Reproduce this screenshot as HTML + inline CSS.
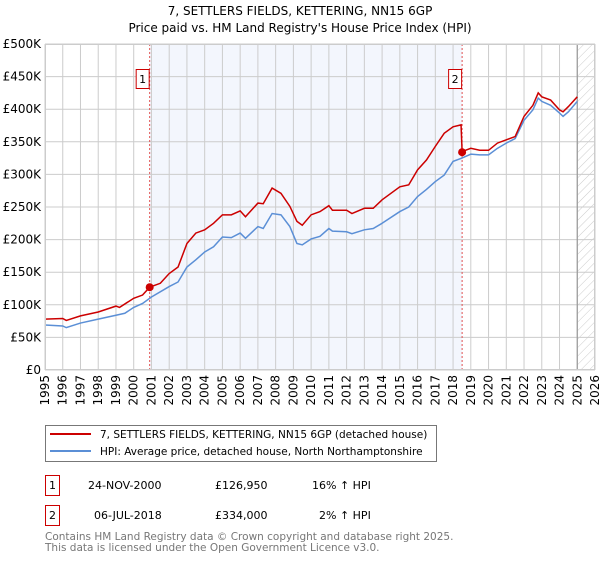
<!DOCTYPE html>
<html><head><meta charset="utf-8"><style>
body{margin:0;background:#fff;font-family:"DejaVu Sans","Liberation Sans",sans-serif;}
svg text{font-family:"DejaVu Sans","Liberation Sans",sans-serif;}
</style></head><body>
<svg width="600" height="560" viewBox="0 0 600 560">
<defs><pattern id="hatch" width="6" height="6" patternUnits="userSpaceOnUse" patternTransform="rotate(45)"><line x1="0" y1="0" x2="0" y2="6" stroke="#ccc" stroke-width="1"/></pattern></defs>
<text x="300" y="15" text-anchor="middle" font-size="12">7, SETTLERS FIELDS, KETTERING, NN15 6GP</text>
<text x="300" y="32" text-anchor="middle" font-size="12">Price paid vs. HM Land Registry's House Price Index (HPI)</text>
<g id="plot"></g>
<g>
<rect x="45.5" y="425.5" width="391" height="36" fill="#fff" stroke="#777"/>
<line x1="50" y1="434" x2="91" y2="434" stroke="#cc0000" stroke-width="2"/>
<text x="100" y="438" font-size="10.5">7, SETTLERS FIELDS, KETTERING, NN15 6GP (detached house)</text>
<line x1="50" y1="451" x2="91" y2="451" stroke="#5b8fd6" stroke-width="2"/>
<text x="100" y="455" font-size="10.5">HPI: Average price, detached house, North Northamptonshire</text>
</g>
<g>
<rect x="45.5" y="475.5" width="14" height="20" fill="none" stroke="#cc0000"/>
<text x="52.5" y="489" text-anchor="middle" font-size="11">1</text>
<text x="88" y="489" font-size="11">24-NOV-2000</text>
<text x="215" y="489" font-size="11">£126,950</text>
<text x="312" y="489" font-size="11">16% ↑ HPI</text>
</g>
<g>
<rect x="45.5" y="505.5" width="14" height="20" fill="none" stroke="#cc0000"/>
<text x="52.5" y="519" text-anchor="middle" font-size="11">2</text>
<text x="94" y="519" font-size="11">06-JUL-2018</text>
<text x="215" y="519" font-size="11">£334,000</text>
<text x="319" y="519" font-size="11">2% ↑ HPI</text>
</g>
<text x="45" y="540" font-size="10.5" fill="#777">Contains HM Land Registry data © Crown copyright and database right 2025.</text>
<text x="45" y="551" font-size="10.5" fill="#777">This data is licensed under the Open Government Licence v3.0.</text>
</svg>
<script>
const hpiYears=[1995,1996,1996.2,1997,1998,1999,1999.5,2000,2000.5,2001,2002,2002.5,2003,2003.5,2004,2004.5,2005,2005.5,2006,2006.3,2007,2007.3,2007.8,2008.3,2008.8,2009.2,2009.5,2010,2010.5,2011,2011.2,2012,2012.3,2013,2013.5,2014,2015,2015.5,2016,2016.5,2017,2017.5,2018,2018.5,2019,2019.5,2020,2020.5,2021,2021.5,2022,2022.5,2022.8,2023,2023.5,2024,2024.2,2024.5,2025];
const hpiValues=[69,67.5,65,72,78,84,87,96,102,112,128,135,158,169,181,189,204,203,210,202,220,217,240,238,220,194,192,201,205,217,213,212,209,215,217,225,243,250,266,277,289,299,320,325,331,330,330,340,348,355,383,399,417,412,406,394,389,396,412];
const priceYears=[1995,1996,1996.2,1997,1998,1999,1999.2,2000,2000.5,2000.9,2001.5,2002,2002.5,2003,2003.5,2004,2004.5,2005,2005.5,2006,2006.3,2007,2007.3,2007.8,2008.3,2008.8,2009.2,2009.5,2010,2010.5,2011,2011.2,2012,2012.3,2013,2013.5,2014,2015,2015.5,2016,2016.5,2017,2017.5,2018,2018.45,2018.51,2019,2019.5,2020,2020.5,2021,2021.5,2022,2022.5,2022.8,2023,2023.5,2024,2024.2,2024.5,2025];
const priceValues=[78,79,76,83,89,98,96,110,115,127,133,148,158,194,210,215,225,238,238,244,235,256,255,279,271,251,228,222,238,243,252,245,245,240,248,248,261,281,284,307,322,343,363,373,376,335,340,337,337,348,353,358,389,406,425,419,414,399,396,404,419];
const yTicks=[0,50,100,150,200,250,300,350,400,450,500];
const yTickLabels=["£0","£50K","£100K","£150K","£200K","£250K","£300K","£350K","£400K","£450K","£500K"];
const xTicks=[1995,1996,1997,1998,1999,2000,2001,2002,2003,2004,2005,2006,2007,2008,2009,2010,2011,2012,2013,2014,2015,2016,2017,2018,2019,2020,2021,2022,2023,2024,2025,2026];
const saleYears=[2000.9,2018.51];
const saleValues=[126.95,334];
const saleLabels=["1","2"];
const dataEnd=2025.0;

const L=45,R=595,T=44,B=370;
const xs=y=>L+(y-1995)/(2026-1995)*(R-L);
const ys=v=>B-v/500*(B-T);
const NS="http://www.w3.org/2000/svg";
const g=document.getElementById('plot');
function mk(tag,attrs,parent){const e=document.createElementNS(NS,tag);for(const k in attrs)e.setAttribute(k,attrs[k]);(parent||g).appendChild(e);return e;}

let e=mk('rect',{x:L,y:T,width:R-L,height:B-T,fill:'#fff'});


e=mk('rect',{x:xs(saleYears[0]),y:T,width:xs(saleYears[1])-xs(saleYears[0]),height:B-T,fill:'#f3f6fd'});


e=mk('rect',{x:xs(dataEnd),y:T,width:R-xs(dataEnd),height:B-T,fill:'url(#hatch)'});


yTicks.forEach((t,i)=>{
  e=mk('line',{x1:L,x2:R,y1:ys(t),y2:ys(t),stroke:'#ccc','stroke-width':1});
  
  
  e=mk('text',{x:L-4,y:ys(t)+4,'text-anchor':'end','font-size':12});
  e.textContent=yTickLabels[i];
  
  
});
xTicks.forEach(t=>{
  e=mk('line',{x1:xs(t),x2:xs(t),y1:T,y2:B,stroke:'#ccc','stroke-width':1});
  
  
  e=mk('text',{x:0,y:0,'font-size':12,'text-anchor':'end',transform:`translate(${xs(t)+4},${B+5}) rotate(-90)`});
  e.textContent=t;
  
  
});
e=mk('line',{x1:xs(dataEnd),x2:xs(dataEnd),y1:T,y2:B,stroke:'#999','stroke-width':1.2});


saleYears.forEach((s,i)=>{
  e=mk('line',{x1:xs(s),x2:xs(s),y1:T,y2:B,stroke:'#e05050','stroke-width':1,'stroke-dasharray':'2,2'});
  
  
  e=mk('rect',{x:xs(s)-13.5,y:69.5,width:13,height:19,fill:'#fff',stroke:'#cc0000'});
  
  
  e=mk('text',{x:xs(s)-7,y:83,'text-anchor':'middle','font-size':11});
  e.textContent=saleLabels[i];
  
  
});
e=mk('polyline',{points:hpiYears.map((y,i)=>xs(y)+','+ys(hpiValues[i])).join(' '),fill:'none',stroke:'#5b8fd6','stroke-width':1.5});


e=mk('polyline',{points:priceYears.map((y,i)=>xs(y)+','+ys(priceValues[i])).join(' '),fill:'none',stroke:'#cc0000','stroke-width':1.5});


saleYears.forEach((s,i)=>{
  e=mk('circle',{cx:xs(s),cy:ys(saleValues[i]),r:4,fill:'#cc0000'});
  
  
});
e=mk('rect',{x:L+0.5,y:T+0.5,width:R-L-1,height:B-T-1,fill:'none',stroke:'#ccc'});


</script>
</body></html>
